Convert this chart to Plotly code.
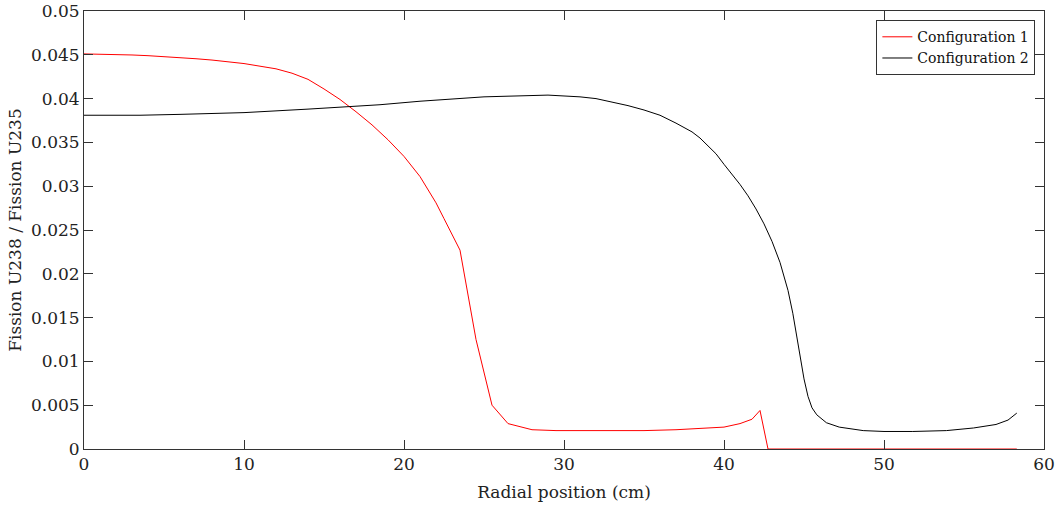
import plotly.graph_objects as go

# Configuration 1 (red)
x1 = [0, 1, 2, 3, 4, 5, 6, 7, 8, 9, 10, 11, 12, 13, 14, 15, 16, 17, 18, 19,
      20, 21, 22, 22.5, 23.5, 24.5, 25.5, 26.5, 28, 29.5, 31, 33, 35, 37, 39,
      40, 41, 41.75, 42.25, 42.75, 50, 58.3]
y1 = [0.0451, 0.04508, 0.04505, 0.04498, 0.0449, 0.0448, 0.0447, 0.04455,
      0.0444, 0.0442, 0.0440, 0.0437, 0.0434, 0.0429, 0.0422, 0.0411,
      0.0399, 0.0385, 0.0370, 0.0353, 0.0334, 0.0311, 0.0281, 0.0263, 0.0227,
      0.0125, 0.0050, 0.0029, 0.0022, 0.0021, 0.0021, 0.0021, 0.0021, 0.0022,
      0.0024, 0.0025, 0.0029, 0.0034, 0.0044,
      0.0, 0.0, 0.0]

# Configuration 2 (black)
x2 = [0, 3.5, 6, 10, 14, 16.6, 18.5, 21, 22.6, 25, 27, 29, 30, 31, 32, 33,
      34, 35, 36, 37, 38, 38.5, 39, 39.5, 40, 40.5, 41, 41.5, 42, 42.5, 43,
      43.5, 44, 44.3, 44.6, 45, 45.25, 45.5, 45.8, 46.1, 46.4, 47.2, 48.7, 50,
      51.8, 53.9, 55.6, 57, 57.75, 58.3]
y2 = [0.0381, 0.0381, 0.0382, 0.0384, 0.0388, 0.0391, 0.0393, 0.0397,
      0.0399, 0.0402, 0.0403, 0.0404, 0.0403, 0.0402, 0.0400, 0.0396,
      0.0392, 0.0387, 0.0381, 0.0372, 0.0362, 0.0355, 0.0346, 0.0337,
      0.0325, 0.0314, 0.0302, 0.0289, 0.0274, 0.0257, 0.0237, 0.0213,
      0.0181, 0.0155, 0.0121, 0.0080, 0.0060, 0.0047, 0.0039, 0.0034,
      0.0030, 0.0025, 0.0021, 0.0020, 0.0020, 0.0021, 0.0024, 0.0028,
      0.0033, 0.0041]

x_ticks = [0, 10, 20, 30, 40, 50, 60]
y_ticks = [0, 0.005, 0.01, 0.015, 0.02, 0.025, 0.03, 0.035, 0.04, 0.045, 0.05]
y_tick_labels = ["0", "0.005", "0.01", "0.015", "0.02", "0.025", "0.03",
                 "0.035", "0.04", "0.045", "0.05"]

font = "DejaVu Serif"

fig = go.Figure()
fig.add_trace(go.Scatter(x=x1, y=y1, mode="lines", name="Configuration 1",
                         line=dict(color="#ff0000", width=1)))
fig.add_trace(go.Scatter(x=x2, y=y2, mode="lines", name="Configuration 2",
                         line=dict(color="#000000", width=1)))

axis_common = dict(
    showgrid=False, zeroline=False, showline=True, linecolor="#333333",
    linewidth=1, mirror="ticks", ticks="inside", ticklen=9, tickcolor="#333333",
    tickfont=dict(family=font, size=17, color="#222222"), automargin=False,
    ticklabeloverflow="allow",
)

fig.update_layout(
    width=1060, height=508,
    margin=dict(l=84, r=16, t=11, b=59),
    paper_bgcolor="white", plot_bgcolor="white",
    font=dict(family=font, color="#222222"),
    xaxis=dict(range=[0, 60], tickvals=x_ticks,
               title=dict(text="Radial position (cm)", font=dict(family=font, size=17),
                          standoff=12),
               **axis_common),
    yaxis=dict(range=[0, 0.05], tickvals=y_ticks, ticktext=y_tick_labels,
               title=dict(text="Fission U238 / Fission U235", font=dict(family=font, size=17),
                          standoff=4),
               **axis_common),
    legend=dict(x=0.991, y=0.979, xanchor="right", yanchor="top",
                bgcolor="white", bordercolor="#333333", borderwidth=1,
                font=dict(family=font, size=14, color="#111111"),
                itemwidth=30, tracegroupgap=0),
    showlegend=True,
)

fig.write_html("out.html", config={"displayModeBar": False},
               post_script="document.body.style.margin='0';")
